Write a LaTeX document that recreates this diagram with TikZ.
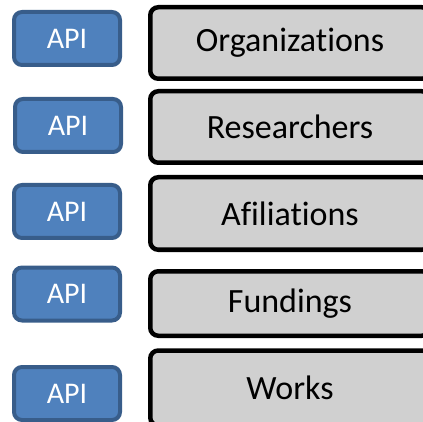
\documentclass[tikz,border=0pt]{standalone}
\usepackage{fontspec}
\setmainfont{Carlito}[Ligatures={NoCommon}]
\usepackage{xcolor}
\usepackage{tikz}
\definecolor{apicolor}{RGB}{79,129,189}
\definecolor{apiedge}{RGB}{56,93,138}
\definecolor{entitycolor}{RGB}{208,208,208}

\begin{document}
\begin{tikzpicture}[
    x=1pt, y=-1pt,
    api/.style={draw=apiedge, fill=apicolor, line width=4pt, rounded corners=8pt, minimum width=106pt, minimum height=53pt, inner sep=0pt, text=white, font=\fontsize{30}{36}\selectfont},
    entity/.style={draw=black, fill=entitycolor, line width=4.5pt, rounded corners=8pt, minimum width=279.5pt, minimum height=71.5pt, inner sep=0pt, font=\fontsize{34}{40}\selectfont}
]
    \clip (0,0) rectangle (423,422);

    \node[api] (api1) at (67,38.5) {API};
    \node[api] (api2) at (68,125.5) {API};
    \node[api] (api3) at (67,211.5) {API};
    \node[api] (api4) at (67,294) {API};
    \node[api] (api5) at (67,393.5) {API};

    \node[entity] (org) at (290,43) {Organizations};
    \node[entity] (res) at (290,127) {Researchers};
    \node[entity, minimum height=72.5pt] (afi) at (290,213.5) {Afiliations};
    \node[entity, minimum height=64.5pt] (fund) at (290,303.5) {Fundings};
    \node[entity, minimum height=75pt] (works) at (290,388) {Works};
\end{tikzpicture}
\end{document}
